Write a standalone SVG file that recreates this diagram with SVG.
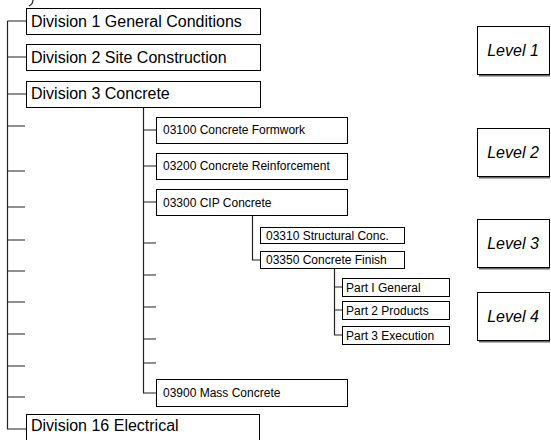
<svg xmlns="http://www.w3.org/2000/svg" width="551" height="440" viewBox="0 0 551 440">
<style>
.box{fill:#fff;stroke:#000;stroke-width:1}
.sh{fill:#666}
.ln{fill:none;stroke:#222;stroke-width:1.2}
.t16{font-family:"Liberation Sans",Arial,sans-serif;font-size:16px;fill:#000}
.t12{font-family:"Liberation Sans",Arial,sans-serif;font-size:12px;fill:#000}
.lv{font-family:"Liberation Sans",Arial,sans-serif;font-size:16px;font-style:italic;fill:#000;text-anchor:middle}
</style>
<rect width="551" height="440" fill="#fff"/>
<path class="ln" d="M33,0 Q33,4 29,6"/>
<g id="connectors">
<path class="ln" d="M7.5,21 V429 H26"/>
<path class="ln" d="M7.5,21 H26 M7.5,57 H26 M7.5,94 H26 M7.5,126 H25 M7.5,171 H25 M7.5,207 H25 M7.5,240 H25 M7.5,271 H25 M7.5,302 H25 M7.5,334 H25 M7.5,366 H25 M7.5,397 H25"/>
<path class="ln" d="M143.5,108 V393 H156"/>
<path class="ln" d="M143.5,130 H156 M143.5,166 H156 M143.5,202 H156 M143.5,243 H156 M143.5,275 H156 M143.5,307 H156 M143.5,339 H156 M143.5,363 H156"/>
<path class="ln" d="M252.5,216 V260 H260"/>
<path class="ln" d="M334.5,269 V335 H342 M334.5,287 H342 M334.5,310 H342"/>
</g>
<g id="div1"><rect class="box" x="26.5" y="8.5" width="234" height="26"/><text class="t16" x="31" y="27">Division 1 General Conditions</text></g>
<g id="div2"><rect class="box" x="26.5" y="44.5" width="234" height="26"/><text class="t16" x="31" y="63">Division 2 Site Construction</text></g>
<g id="div3"><rect class="box" x="26.5" y="81.5" width="234" height="26"/><text class="t16" x="31" y="99">Division 3 Concrete</text></g>
<g id="div16"><rect class="box" x="26.5" y="414.5" width="233" height="30"/><text class="t16" x="31" y="431">Division 16 Electrical</text></g>
<g id="n03100"><rect class="box" x="156.5" y="117.5" width="191" height="26"/><text class="t12" x="163" y="134">03100 Concrete Formwork</text></g>
<g id="n03200"><rect class="box" x="156.5" y="153.5" width="191" height="26"/><text class="t12" x="163" y="170">03200 Concrete Reinforcement</text></g>
<g id="n03300"><rect class="box" x="156.5" y="189.5" width="191" height="26"/><text class="t12" x="163" y="206.5">03300 CIP Concrete</text></g>
<g id="n03900"><rect class="box" x="156.5" y="379.5" width="191" height="27"/><text class="t12" x="163" y="397">03900 Mass Concrete</text></g>
<g id="n03310"><rect class="box" x="260.5" y="227.5" width="144" height="16"/><text class="t12" x="266" y="239.5">03310 Structural Conc.</text></g>
<g id="n03350"><rect class="box" x="260.5" y="251.5" width="144" height="17"/><text class="t12" x="266" y="264">03350 Concrete Finish</text></g>
<g id="p1"><rect class="box" x="342.5" y="278.5" width="107" height="18"/><text class="t12" x="346" y="291.5">Part I General</text></g>
<g id="p2"><rect class="box" x="342.5" y="301.5" width="107" height="18"/><text class="t12" x="346" y="314.5">Part 2 Products</text></g>
<g id="p3"><rect class="box" x="342.5" y="326.5" width="107" height="18"/><text class="t12" x="346" y="339.5">Part 3 Execution</text></g>
<g id="level1"><rect class="sh" x="479" y="28.5" width="71" height="48"/><rect class="box" x="477.5" y="26.5" width="72" height="48"/><text class="lv" x="513" y="56">Level 1</text></g>
<g id="level2"><rect class="sh" x="479" y="130.5" width="71" height="48"/><rect class="box" x="477.5" y="128.5" width="72" height="48"/><text class="lv" x="513" y="158">Level 2</text></g>
<g id="level3"><rect class="sh" x="479" y="221.5" width="71" height="48"/><rect class="box" x="477.5" y="219.5" width="72" height="48"/><text class="lv" x="513" y="249">Level 3</text></g>
<g id="level4"><rect class="sh" x="479" y="294.5" width="71" height="48"/><rect class="box" x="477.5" y="292.5" width="72" height="48"/><text class="lv" x="513" y="322">Level 4</text></g>
</svg>
